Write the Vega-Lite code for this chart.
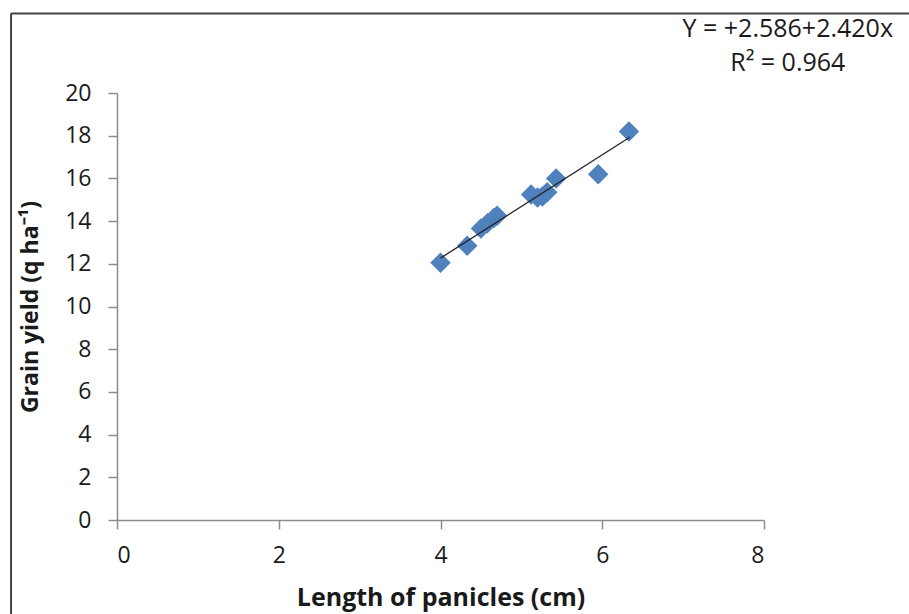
{
  "$schema": "https://vega.github.io/schema/vega-lite/v6.json",
  "width": 647,
  "height": 427,
  "autosize": {"type": "none"},
  "padding": {"left": 117, "top": 93, "right": 145, "bottom": 94},
  "background": "white",
  "config": {"view": {"stroke": null}, "font": "Open Sans"},
  "data": {
    "values": [
      {"length": 4.00, "yield": 12.05},
      {"length": 4.33, "yield": 12.85},
      {"length": 4.50, "yield": 13.65},
      {"length": 4.58, "yield": 13.9},
      {"length": 4.66, "yield": 14.15},
      {"length": 4.70, "yield": 14.25},
      {"length": 5.12, "yield": 15.25},
      {"length": 5.20, "yield": 15.1},
      {"length": 5.26, "yield": 15.15},
      {"length": 5.32, "yield": 15.35},
      {"length": 5.43, "yield": 16.0},
      {"length": 5.95, "yield": 16.2},
      {"length": 6.33, "yield": 18.2}
    ]
  },
  "layer": [
    {
      "data": {"values": [{}]},
      "mark": {"type": "rule", "color": "#444444", "strokeWidth": 2, "clip": false},
      "encoding": {
        "x": {"datum": -1.31, "type": "quantitative"},
        "x2": {"datum": 10},
        "y": {"datum": 23.72, "type": "quantitative"}
      }
    },
    {
      "data": {"values": [{}]},
      "mark": {"type": "rule", "color": "#444444", "strokeWidth": 2, "clip": false},
      "encoding": {
        "x": {"datum": -1.31, "type": "quantitative"},
        "y": {"datum": 23.72, "type": "quantitative"},
        "y2": {"datum": -5}
      }
    },
    {
      "data": {"values": [{}]},
      "mark": {"type": "text", "align": "center", "baseline": "alphabetic", "font": "Open Sans", "fontWeight": "normal", "fontSize": 25, "lineHeight": 34, "color": "#1a1a1a", "clip": false},
      "encoding": {
        "x": {"datum": 8.294, "type": "quantitative"},
        "y": {"datum": 22.6, "type": "quantitative"},
        "text": {"value": ["Y = +2.586+2.420x", "R² = 0.964"]}
      }
    },
    {
      "mark": {"type": "point", "shape": "diamond", "filled": true, "size": 420, "color": "#4f81bd", "opacity": 1},
      "encoding": {
        "x": {
          "field": "length",
          "type": "quantitative",
          "scale": {"domain": [0, 8], "nice": false},
          "axis": {
            "values": [0, 2, 4, 6, 8],
            "format": "d",
            "grid": false,
            "domainColor": "#8c8c8c",
            "domainWidth": 1.5,
            "tickColor": "#8c8c8c",
            "tickWidth": 1.5,
            "tickSize": 9,
            "labelFontSize": 23,
            "labelPadding": 15,
            "labelColor": "#1a1a1a",
            "title": "Length of panicles (cm)",
            "titleFontSize": 25,
            "titleFontWeight": "bold",
            "titleColor": "#1a1a1a",
            "titlePadding": 18
          }
        },
        "y": {
          "field": "yield",
          "type": "quantitative",
          "scale": {"domain": [0, 20], "nice": false},
          "axis": {
            "values": [0, 2, 4, 6, 8, 10, 12, 14, 16, 18, 20],
            "grid": false,
            "domainColor": "#8c8c8c",
            "domainWidth": 1.5,
            "tickColor": "#8c8c8c",
            "tickWidth": 1.5,
            "tickSize": 9,
            "labelFontSize": 23,
            "labelPadding": 17,
            "labelColor": "#1a1a1a",
            "title": "Grain yield (q ha⁻¹)",
            "titleFontSize": 23,
            "titleFontWeight": "bold",
            "titleColor": "#1a1a1a",
            "titlePadding": 22
          }
        }
      }
    },
    {
      "data": {"values": [{"length": 4.0, "yield": 12.266}, {"length": 6.34, "yield": 17.929}]},
      "mark": {"type": "line", "color": "#222222", "strokeWidth": 1.3},
      "encoding": {
        "x": {"field": "length", "type": "quantitative"},
        "y": {"field": "yield", "type": "quantitative"}
      }
    }
  ]
}
